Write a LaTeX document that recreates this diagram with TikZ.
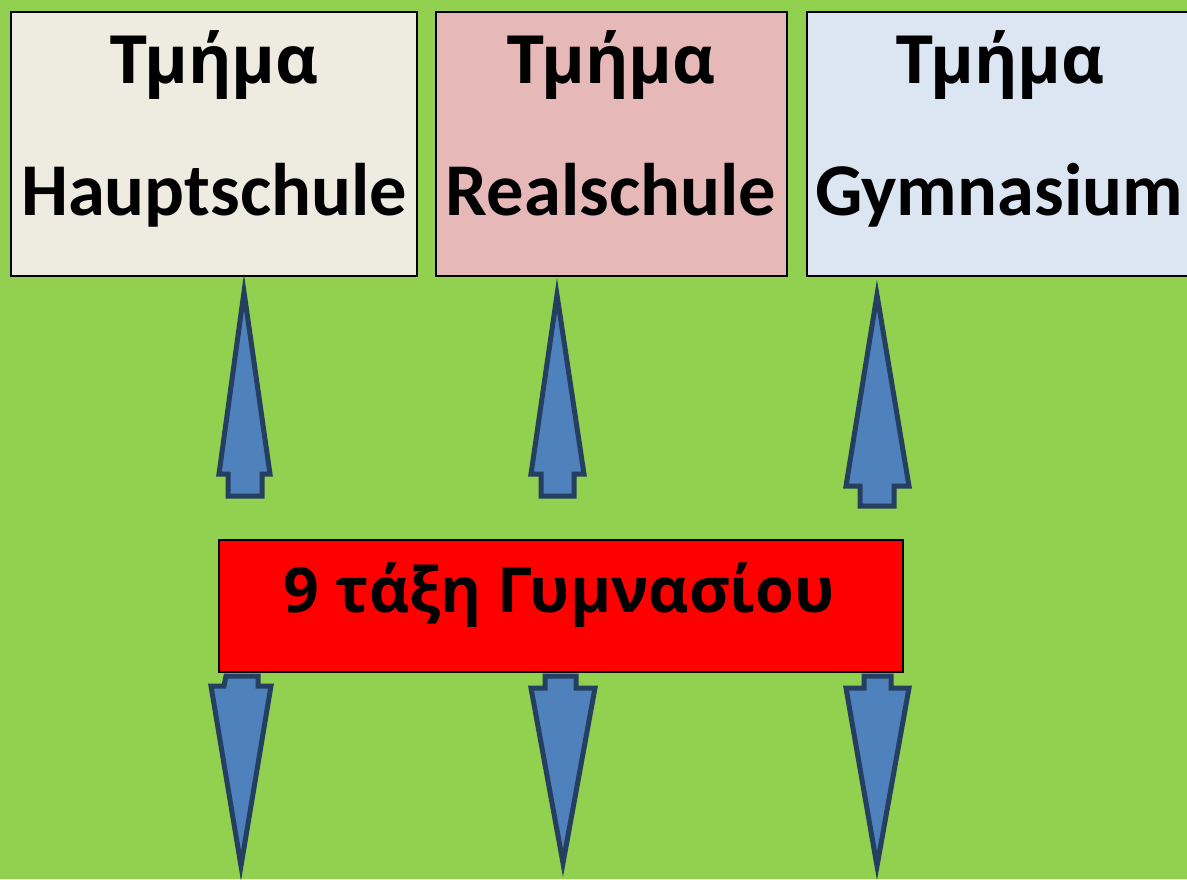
\documentclass[tikz,border=0pt]{standalone}
\usepackage{fontspec}
\setmainfont{Carlito}
\newfontfamily\grk{Open Sans}
\definecolor{bg}{HTML}{92D050}
\definecolor{beige}{HTML}{EEECE1}
\definecolor{pinkbox}{HTML}{E6B9B8}
\definecolor{bluebox}{HTML}{DCE6F2}
\definecolor{arrowfill}{HTML}{4F81BD}
\definecolor{arrowline}{HTML}{243F60}
\tikzset{
  box/.style={draw=black, line width=2.5pt},
  lbl/.style={anchor=base, inner sep=0pt, font=\fontsize{74.5}{80}\selectfont\bfseries},
  glbl/.style={anchor=base, inner sep=0pt, font=\grk\fontsize{66.5}{70}\selectfont\bfseries},
  blockarrow/.style={fill=arrowfill, draw=arrowline, line width=5pt, line join=miter}
}
\begin{document}
\begin{tikzpicture}[x=1pt,y=-1pt]
\useasboundingbox (0,0) rectangle (1187,879);
\clip (0,0) rectangle (1187,879);
\fill[bg] (0,0) rectangle (1187,879);
% top boxes
\draw[box, fill=beige] (11,12) rectangle (417,276);
\draw[box, fill=pinkbox] (436,12) rectangle (787,276);
\draw[box, fill=bluebox] (807,12) rectangle (1192,276);
\node[glbl] (t1) at (214,83) {Τμήμα};
\node[lbl] (h1) at (214,215) {Hauptschule};
\node[glbl] (t2) at (611,83) {Τμήμα};
\node[lbl] (h2) at (611,215) {Realschule};
\node[glbl] (t3) at (1000,83) {Τμήμα};
\node[lbl] (h3) at (999,215) {Gymnasium};
% red box
\draw[box, fill=red] (219,540) rectangle (903,672);
\node[glbl, font=\grk\fontsize{62.5}{70}\selectfont\bfseries] (g) at (559,612) {9 τάξη Γυμνασίου};
% up arrows
\draw[blockarrow] (244,292) -- (270,474) -- (262,474) -- (262,496) -- (228,496) -- (228,474) -- (219,474) -- cycle;
\draw[blockarrow] (557,295) -- (584,474) -- (574,474) -- (574,496) -- (541,496) -- (541,474) -- (531,474) -- cycle;
\draw[blockarrow] (877,295) -- (909,486) -- (894,486) -- (894,506) -- (860,506) -- (860,486) -- (846,486) -- cycle;
% down arrows
\draw[blockarrow] (226,676) -- (258,676) -- (258,686) -- (271,686) -- (241,866) -- (211,686) -- (224,686) -- cycle;
\draw[blockarrow] (545,676) -- (576,676) -- (576,688) -- (595,688) -- (563,863) -- (531,688) -- (545,688) -- cycle;
\draw[blockarrow] (864,676) -- (891,676) -- (891,688) -- (909,688) -- (877,866) -- (846,688) -- (864,688) -- cycle;
\end{tikzpicture}
\end{document}
